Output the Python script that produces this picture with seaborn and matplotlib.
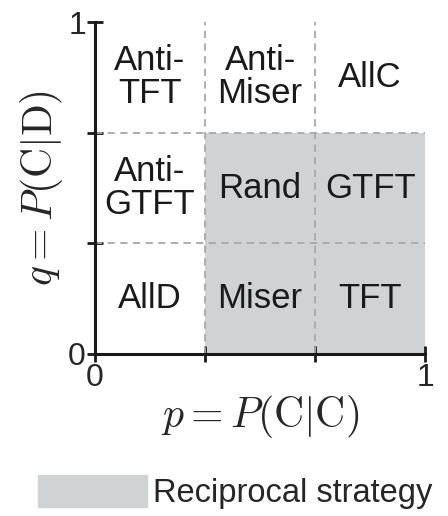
import numpy as np
import matplotlib
matplotlib.use("Agg")
import matplotlib.pyplot as plt
import seaborn as sns
from matplotlib.patches import Patch, Rectangle

# 전략 격자 (행: q 위->아래, 열: p 왼->오)
bounds = [0, 1 / 3, 2 / 3, 1]
names = [["Anti-\nTFT", "Anti-\nMiser", "AllC"],
         ["Anti-\nGTFT", "Rand", "GTFT"],
         ["AllD", "Miser", "TFT"]]
reciprocal = [[0, 0, 0],
              [0, 1, 1],
              [0, 1, 1]]
tick_labels = ["0", "", "", "1"]

sns.set_style("ticks")
plt.rcParams['font.family'] = ['Liberation Sans', 'DejaVu Sans']
plt.rcParams['mathtext.fontset'] = 'cm'

shade = "#d1d2d4"
fig = plt.figure(figsize=(4.48, 5.16), dpi=100)
ax = fig.add_axes([0.212, 0.314, 0.737, 0.643])

n = len(names)
for i in range(n):
    q0, q1 = bounds[n - 1 - i], bounds[n - i]
    for j in range(n):
        p0, p1 = bounds[j], bounds[j + 1]
        if reciprocal[i][j]:
            ax.add_patch(Rectangle((p0, q0), p1 - p0, q1 - q0, color=shade, lw=0, zorder=0))
        ax.text((p0 + p1) / 2, (q0 + q1) / 2, names[i][j], ha="center", va="center",
                fontsize=25, linespacing=1.0, color="#1a1a1a")

for b in bounds[1:-1]:
    ax.axvline(b, color="#a8a8a8", ls=(0, (4, 3)), lw=1.3, zorder=1)
    ax.axhline(b, color="#a8a8a8", ls=(0, (4, 3)), lw=1.3, zorder=1)

ax.set_xlim(0, 1)
ax.set_ylim(0, 1)
ax.set_xticks(bounds)
ax.set_yticks(bounds)
ax.set_xticklabels(tick_labels, fontsize=23)
ax.set_yticklabels(tick_labels, fontsize=23)
ax.tick_params(direction="inout", length=11, width=2, color="#1a1a1a", pad=1)
sns.despine(ax=ax)
for s in ["left", "bottom"]:
    ax.spines[s].set_linewidth(2.2)
    ax.spines[s].set_color("#1a1a1a")

ax.set_xlabel(r"$p = P(\mathrm{C}|\mathrm{C})$", fontsize=30, labelpad=0)
ax.set_ylabel(r"$q = P(\mathrm{C}|\mathrm{D})$", fontsize=30, labelpad=2)

fig.legend(handles=[Patch(color=shade, label="Reciprocal strategy")],
           loc="lower left", bbox_to_anchor=(0.055, -0.012), frameon=False,
           fontsize=23.5, handlelength=3.35, handleheight=1.1, handletextpad=0.18,
           borderaxespad=0)

fig.savefig("out.png", dpi=100)
